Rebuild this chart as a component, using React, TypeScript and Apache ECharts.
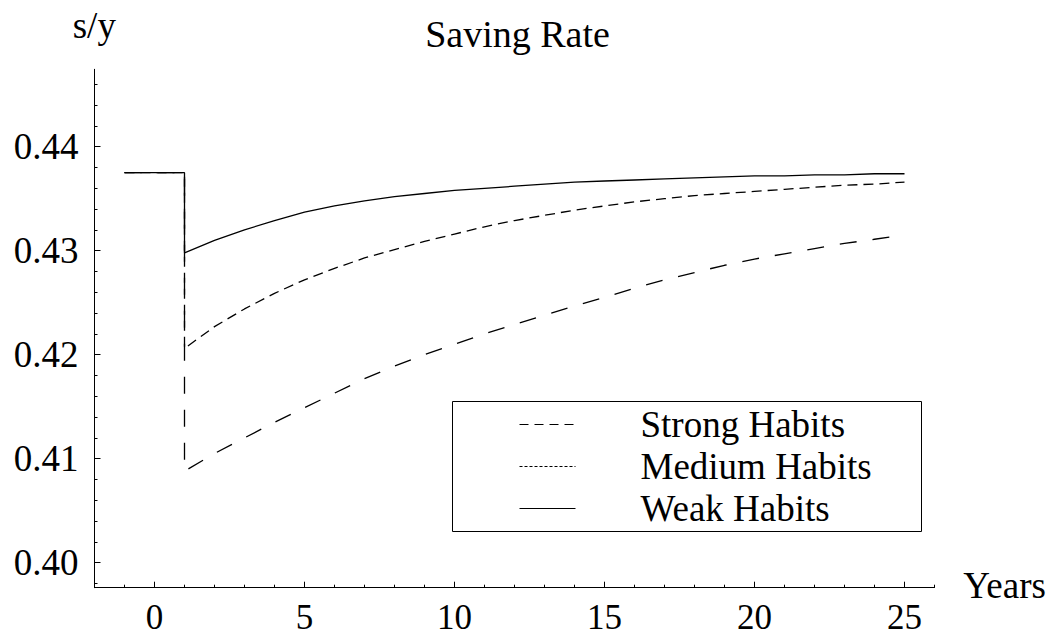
import React, { useEffect, useRef } from "react";
import * as echarts from "echarts";

// ---- data ----
const preShockYears = [-1, 1];
const steadyRate = 0.4375;
const years = [1, 2, 3, 4, 5, 6, 7, 8, 9, 10, 11, 12, 13, 14, 15, 16, 17, 18, 19, 20, 21, 22, 23, 24, 25];
const strongHabits = [
  0.4088, 0.4105, 0.412, 0.4135, 0.4149, 0.4163, 0.4177, 0.4189, 0.42, 0.421, 0.422, 0.4229, 0.4238,
  0.4247, 0.4255, 0.4264, 0.4272, 0.4279, 0.4286, 0.4292, 0.4297, 0.4302, 0.4307, 0.4311, 0.4315,
];
const mediumHabits = [
  0.4206, 0.4227, 0.4244, 0.4259, 0.4272, 0.4283, 0.4293, 0.4301, 0.4309, 0.4316, 0.4323, 0.4329, 0.4334,
  0.4339, 0.4343, 0.4347, 0.435, 0.4353, 0.4355, 0.4357, 0.4359, 0.4361, 0.4363, 0.4364, 0.4366,
];
const weakHabits = [
  0.4298, 0.431, 0.432, 0.4329, 0.4337, 0.4343, 0.4348, 0.4352, 0.4355, 0.4358, 0.436, 0.4362, 0.4364,
  0.4366, 0.4367, 0.4368, 0.4369, 0.437, 0.4371, 0.4372, 0.4372, 0.4373, 0.4373, 0.4374, 0.4374,
];
const seriesNames = ["Strong Habits", "Medium Habits", "Weak Habits"];
const xMajorTicks = [0, 5, 10, 15, 20, 25];
const xMinorTicks = [-2, -1, 0, 1, 2, 3, 4, 5, 6, 7, 8, 9, 10, 11, 12, 13, 14, 15, 16, 17, 18, 19, 20, 21, 22, 23, 24, 25, 26];
const yMajorTicks = [0.4, 0.41, 0.42, 0.43, 0.44];
const yMinorTicks = [
  0.398, 0.4, 0.402, 0.404, 0.406, 0.408, 0.41, 0.412, 0.414, 0.416, 0.418, 0.42, 0.422, 0.424, 0.426,
  0.428, 0.43, 0.432, 0.434, 0.436, 0.438, 0.44, 0.442, 0.444, 0.446,
];
const titleText = "Saving Rate";
const yAxisName = "s/y";
const xAxisName = "Years";

const FONT = "Liberation Serif";

function buildData(vals: number[]) {
  const pre = preShockYears.map((x) => [x, steadyRate]);
  return pre.concat(years.map((x, i) => [x, vals[i]]));
}

export default function App() {
  const ref = useRef<HTMLDivElement>(null);
  useEffect(() => {
    if (!ref.current) return;
    const chart = echarts.init(ref.current, undefined, { renderer: "svg" });
    const xMin = -2;
    const xMax = 26;
    const yMin = 0.397596;
    const yMax = 0.447442;
    const tickLine = { color: "#000", width: 1 };
    const option: any = {
      animation: false,
      backgroundColor: "#fff",
      grid: { left: 94.5, top: 69.3, width: 840, height: 518.4, containLabel: false },
      xAxis: [
        {
          type: "value",
          min: xMin,
          max: xMax,
          position: "bottom",
          axisLine: { show: true, onZero: false, lineStyle: { color: "#000", width: 1 } },
          splitLine: { show: false },
          axisTick: { show: true, inside: true, length: 6, customValues: xMajorTicks, lineStyle: tickLine },
          axisLabel: {
            show: true,
            customValues: xMajorTicks,
            margin: 14.3,
            lineHeight: 30,
            color: "#000",
            fontFamily: FONT,
            fontSize: 35,
            formatter: (v: number) => String(v),
          },
        },
        {
          type: "value",
          min: xMin,
          max: xMax,
          position: "bottom",
          axisLine: { show: false, onZero: false },
          splitLine: { show: false },
          axisTick: { show: true, inside: true, length: 3, customValues: xMinorTicks, lineStyle: tickLine },
          axisLabel: { show: false },
        },
      ],
      yAxis: [
        {
          type: "value",
          min: yMin,
          max: yMax,
          position: "left",
          axisLine: { show: true, onZero: false, lineStyle: { color: "#000", width: 1 } },
          splitLine: { show: false },
          axisTick: { show: true, inside: true, length: 6, customValues: yMajorTicks, lineStyle: tickLine },
          axisLabel: {
            show: true,
            customValues: yMajorTicks,
            margin: 16,
            color: "#000",
            fontFamily: FONT,
            fontSize: 37,
            formatter: (v: number) => v.toFixed(2),
          },
        },
        {
          type: "value",
          min: yMin,
          max: yMax,
          position: "left",
          axisLine: { show: false, onZero: false },
          splitLine: { show: false },
          axisTick: { show: true, inside: true, length: 3, customValues: yMinorTicks, lineStyle: tickLine },
          axisLabel: { show: false },
        },
      ],
      legend: {
        orient: "vertical",
        left: 519,
        top: 406,
        padding: 0,
        itemGap: 5,
        itemWidth: 56,
        itemHeight: 14,
        itemStyle: { opacity: 0 },
        textStyle: { fontFamily: FONT, fontSize: 37, lineHeight: 36, color: "#000", padding: [0, 0, 0, 60] },
        data: [
          { name: seriesNames[0], itemStyle: { opacity: 0 }, lineStyle: { type: [9, 6], width: 1, color: "#000" } },
          { name: seriesNames[1], itemStyle: { opacity: 0 }, lineStyle: { type: [3, 2], width: 1, color: "#000" } },
          { name: seriesNames[2], itemStyle: { opacity: 0 }, lineStyle: { type: "solid", width: 1, color: "#000" } },
        ],
      },
      graphic: [
        {
          type: "rect",
          shape: { x: 452.5, y: 401.5, width: 469, height: 130 },
          style: { fill: "none", stroke: "#000", lineWidth: 1 },
          z: 10,
        },
        {
          type: "text",
          x: 517.5,
          y: 34,
          style: { text: titleText, fontFamily: FONT, fontSize: 38, fill: "#000", align: "center", verticalAlign: "middle" },
        },
        {
          type: "text",
          x: 72.7,
          y: 25,
          style: { text: yAxisName, fontFamily: FONT, fontSize: 37, fill: "#000", align: "left", verticalAlign: "middle" },
        },
        {
          type: "text",
          x: 963.3,
          y: 585,
          style: { text: xAxisName, fontFamily: FONT, fontSize: 37, fill: "#000", align: "left", verticalAlign: "middle" },
        },
      ],
      series: [
        {
          name: seriesNames[0],
          type: "line",
          data: buildData(strongHabits),
          symbol: "none",
          lineStyle: { color: "#000", width: 1.3, type: [17, 16] },
          itemStyle: { color: "#000" },
        },
        {
          name: seriesNames[1],
          type: "line",
          data: buildData(mediumHabits),
          symbol: "none",
          lineStyle: { color: "#000", width: 1.3, type: [10, 6] },
          itemStyle: { color: "#000" },
        },
        {
          name: seriesNames[2],
          type: "line",
          data: buildData(weakHabits),
          symbol: "none",
          lineStyle: { color: "#000", width: 1.3, type: "solid" },
          itemStyle: { color: "#000" },
        },
      ],
    };
    chart.setOption(option);
    return () => chart.dispose();
  }, []);
  return (
    <div
      ref={ref}
      style={{ position: "fixed", left: 0, top: 0, width: 1051, height: 637, background: "#fff" }}
    />
  );
}
